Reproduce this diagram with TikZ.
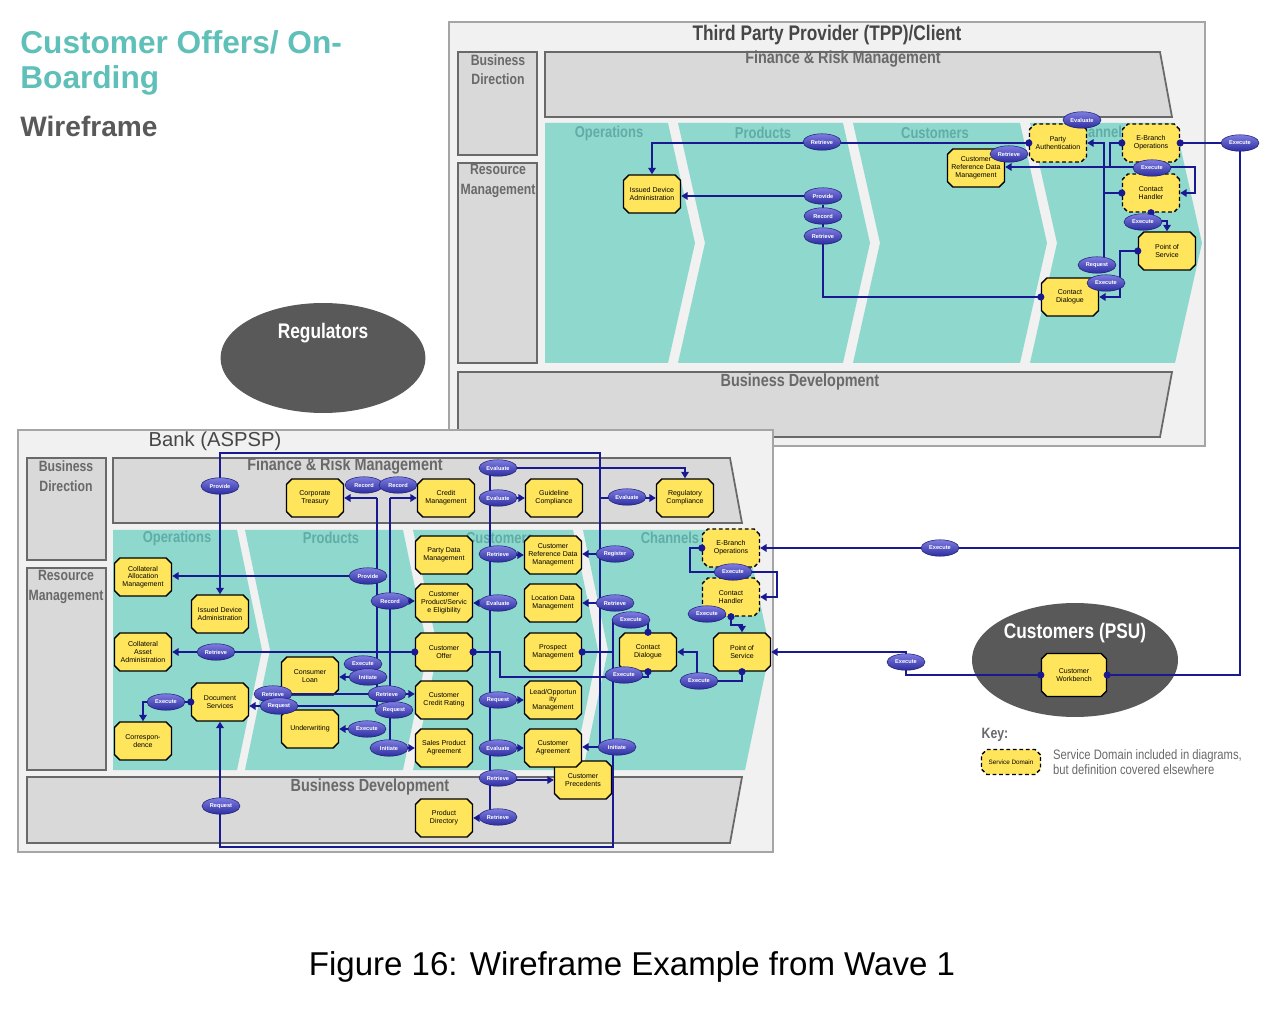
\documentclass[tikz,border=0pt]{standalone}
\usepackage{fontspec}
\setmainfont{Liberation Sans}
\newfontfamily\narrowfont[FakeStretch=0.82]{Liberation Sans}
\usetikzlibrary{shapes.geometric, shapes.misc, positioning, arrows.meta, calc}

\definecolor{sdyellow}{RGB}{255,229,92}
\definecolor{wireblue}{RGB}{25,25,145}
\definecolor{optop}{RGB}{125,125,225}
\definecolor{opbot}{RGB}{45,45,160}
\definecolor{opline}{RGB}{30,30,115}
\definecolor{bandteal}{RGB}{143,216,206}
\definecolor{bandtext}{RGB}{96,172,166}
\definecolor{panelgray}{RGB}{241,241,241}
\definecolor{panelline}{RGB}{165,165,165}
\definecolor{boxgray}{RGB}{217,217,217}
\definecolor{edgegray}{RGB}{105,105,105}
\definecolor{headgray}{RGB}{105,105,105}
\definecolor{darkhead}{RGB}{70,70,70}
\definecolor{titleteal}{RGB}{94,192,184}
\definecolor{blobgray}{RGB}{89,89,89}

\pgfdeclarelayer{back}
\pgfdeclarelayer{mid}
\pgfsetlayers{back,mid,main}

\begin{document}
\begin{tikzpicture}[x=0.02cm, y=-0.02cm]
\tikzset{sd/.style={chamfered rectangle, chamfered rectangle sep=1.5pt, draw=black, line width=0.8pt, fill=sdyellow, minimum width=1.14cm, minimum height=0.76cm, inner sep=0.5pt, align=center, font=\fontsize{4}{4.4}\selectfont},
  sdx/.style={sd, dash pattern=on 2.2pt off 1.5pt},
  op/.style={ellipse, draw=opline, line width=0.3pt, top color=optop, bottom color=opbot, minimum width=0.76cm, minimum height=0.33cm, inner sep=0pt, text=white, font=\bfseries\fontsize{3.2}{3.2}\selectfont},
  wire/.style={draw=wireblue, line width=1.1pt},
  arr/.style={wire, -{Triangle[length=3.6pt,width=4.2pt]}},
  dotarr/.style={wire, shorten <=-2pt, {Circle[length=4pt]}-{Triangle[length=3.6pt,width=4.2pt]}},
  dotln/.style={wire, shorten <=-2pt, {Circle[length=4pt]}-},
  dotdot/.style={wire, shorten <=-2pt, shorten >=-2pt, {Circle[length=4pt]}-{Circle[length=4pt]}},
  panel/.style={draw=panelline, fill=panelgray, line width=0.8pt},
  grey/.style={draw=edgegray, fill=boxgray, line width=1pt},
  band/.style={fill=bandteal},
  head/.style={text=headgray, font=\narrowfont\bfseries\fontsize{10}{11}\selectfont},
  side/.style={text=headgray, align=center, font=\narrowfont\bfseries\fontsize{8.5}{11}\selectfont},
  bandlbl/.style={text=bandtext, font=\narrowfont\bfseries\fontsize{9}{10}\selectfont},
  blob/.style={ellipse, fill=blobgray},
  blobtext/.style={text=white, font=\narrowfont\bfseries\fontsize{12}{13}\selectfont}}

\begin{pgfonlayer}{back}
\fill[white] (0,0) rectangle (1279,1013);
\useasboundingbox (0,0) rectangle (1279,1013);

% headline
\node[anchor=west, inner sep=0, text=titleteal, font=\bfseries\fontsize{18}{20}\selectfont] (ttl1) at (20,42) {Customer Offers/ On-};
\node[anchor=west, inner sep=0, text=titleteal, font=\bfseries\fontsize{18}{20}\selectfont] (ttl2) at (20,80) {Boarding};
\node[anchor=west, inner sep=0, text=blobgray, font=\bfseries\fontsize{16}{18}\selectfont] (ttl3) at (20,126) {Wireframe};
\node[font=\fontsize{18.8}{20}\selectfont] (cap) at (632,967) {Figure 16: Wireframe Example from Wave 1};

% TPP frame
\draw[panel] (449,22) rectangle (1205,446);
\draw[grey] (458,52) rectangle (537,155);
\draw[grey] (458,163) rectangle (537,363);
\draw[grey] (545,52) -- (1160,52) -- (1172,117) -- (545,117) -- cycle;
\draw[grey] (458,372) -- (1172,372) -- (1160,437) -- (458,437) -- cycle;
\foreach \l/\r/\n in {545/668/0, 678/843/27, 853/1020/27, 1030/1175/27}
  \fill[band] (\l,123) -- (\r,123) -- (\r+27,243) -- (\r,363) -- (\l,363) -- (\l+\n,243) -- cycle;
\node[text=darkhead, font=\narrowfont\bfseries\fontsize{12}{13}\selectfont] (tppT) at (827,35) {Third Party Provider (TPP)/Client};
\node[head] (tFR) at (843,59) {Finance \& Risk Management};
\node[head] (tBD) at (800,382) {Business Development};
\node[side] (tBDir) at (498,70) {Business\\Direction};
\node[side] (tRM) at (498,181) {Resource\\Management};
\node[bandlbl] (tOps) at (609,133) {Operations};
\node[bandlbl] (tPrd) at (763,133) {Products};
\node[bandlbl] (tCus) at (935,133) {Customers};
\node[bandlbl] (tChn) at (1100,132) {Channels};

% Bank frame
\draw[panel] (18,430) rectangle (773,852);
\draw[grey] (27,458) rectangle (106,560);
\draw[grey] (27,568) rectangle (106,770);
\draw[grey] (113,458) -- (730,458) -- (742,523) -- (113,523) -- cycle;
\draw[grey] (27,777) -- (742,777) -- (730,843) -- (27,843) -- cycle;
\foreach \l/\r/\n in {113/237/0, 245/403/25, 413/573/25, 583/745/25}
  \fill[band] (\l,530) -- (\r,530) -- (\r+25,650) -- (\r,770) -- (\l,770) -- (\l+\n,650) -- cycle;
\node[text=darkhead, font=\fontsize{11.5}{13}\selectfont] (bankT) at (215,441) {Bank (ASPSP)};
\node[head] (bFR) at (345,466) {Finance \& Risk Management};
\node[head] (bBD) at (370,787) {Business Development};
\node[side] (bBDir) at (66,476) {Business\\Direction};
\node[side] (bRM) at (66,587) {Resource\\Management};
\node[bandlbl] (bOps) at (177,538) {Operations};
\node[bandlbl] (bPrd) at (331,538) {Products};
\node[bandlbl] (bCus) at (500,538) {Customers};
\node[bandlbl] (bChn) at (670,538) {Channels};

% outside parties
\node[blob, minimum width=4.1cm, minimum height=2.2cm] (regs) at (323,358) {};
\node[blobtext] (regsT) at (323,333) {Regulators};
\node[blob, minimum width=4.12cm, minimum height=2.28cm] (psu) at (1075,660) {};
\node[blobtext] (psuT) at (1075,633) {Customers (PSU)};

% TPP service domains
\node[sd] (tIDA) at (652,194) {Issued Device\\Administration};
\node[sd] (tCRD) at (976,168) {Customer\\Reference Data\\Management};
\node[sdx] (tPA) at (1058,143) {Party\\Authentication};
\node[sdx] (tEB) at (1151,143) {E-Branch\\Operations};
\node[sdx] (tCH) at (1151,193) {Contact\\Handler};
\node[sd] (tPOS) at (1167,251) {Point of\\Service};
\node[sd] (tCD) at (1070,297) {Contact\\Dialogue};

% Bank service domains
\node[sd] (bCT) at (315,498) {Corporate\\Treasury};
\node[sd] (bCM) at (446,498) {Credit\\Management};
\node[sd] (bGC) at (554,498) {Guideline\\Compliance};
\node[sd] (bRC) at (685,498) {Regulatory\\Compliance};
\node[sd] (bCAM) at (143,577) {Collateral\\Allocation\\Management};
\node[sd] (bIDA) at (220,614) {Issued Device\\Administration};
\node[sd] (bCAA) at (143,652) {Collateral\\Asset\\Administration};
\node[sd] (bDS) at (220,702) {Document\\Services};
\node[sd] (bCO) at (143,741) {Correspon-\\dence};
\node[sd] (bCL) at (310,676) {Consumer\\Loan};
\node[sd] (bUW) at (310,729) {Underwriting};
\node[sd] (bPDM) at (444,555) {Party Data\\Management};
\node[sd] (bCPE) at (444,603) {Customer\\Product/Servic\\e Eligibility};
\node[sd] (bOff) at (444,652) {Customer\\Offer};
\node[sd] (bCCR) at (444,700) {Customer\\Credit Rating};
\node[sd] (bSPA) at (444,748) {Sales Product\\Agreement};
\node[sd] (bPD) at (444,818) {Product\\Directory};
\node[sd] (bCRD) at (553,555) {Customer\\Reference Data\\Management};
\node[sd] (bLDM) at (553,603) {Location Data\\Management};
\node[sd] (bPM) at (553,652) {Prospect\\Management};
\node[sd] (bLOM) at (553,700) {Lead/Opportun\\ity\\Management};
\node[sd] (bCP) at (583,780) {Customer\\Precedents};
\node[sd] (bCA) at (553,748) {Customer\\Agreement};
\node[sd] (bCD) at (648,652) {Contact\\Dialogue};
\node[sd] (bPOS) at (742,652) {Point of\\Service};
\node[sdx] (bEB) at (731,548) {E-Branch\\Operations};
\node[sdx] (bCH) at (731,597) {Contact\\Handler};
\node[sd, minimum width=1.3cm, minimum height=0.86cm] (cWB) at (1074,675) {Customer\\Workbench};
\end{pgfonlayer}

% TPP operations
\node[op] (tRet1) at (822,142) {Retrieve};
\node[op] (tRet2) at (1009,154) {Retrieve};
\node[op] (tEva) at (1082,120) {Evaluate};
\node[op] (tExe1) at (1152,168) {Execute};
\node[op] (tPro) at (823,196) {Provide};
\node[op] (tRec) at (823,216) {Record};
\node[op] (tRet3) at (823,236) {Retrieve};
\node[op] (tExe2) at (1143,222) {Execute};
\node[op] (tReq) at (1097,265) {Request};
\node[op] (tExe3) at (1106,283) {Execute};
\node[op] (tExe4) at (1240,143) {Execute};

% Bank operations
\node[op] (bPro1) at (220,486) {Provide};
\node[op] (bRec1) at (364,485) {Record};
\node[op] (bRec2) at (398,485) {Record};
\node[op] (bEva1) at (498,468) {Evaluate};
\node[op] (bEva2) at (498,498) {Evaluate};
\node[op] (bEva3) at (627,497) {Evaluate};
\node[op] (bPro2) at (368,576) {Provide};
\node[op] (bRec3) at (390,601) {Record};
\node[op] (bRet1) at (498,554) {Retrieve};
\node[op] (bReg) at (615,554) {Register};
\node[op] (bEva4) at (498,603) {Evaluate};
\node[op] (bRet2) at (615,603) {Retrieve};
\node[op] (bExe1) at (631,620) {Execute};
\node[op] (bExe2) at (733,572) {Execute};
\node[op] (bExe3) at (707,614) {Execute};
\node[op] (bRet3) at (216,652) {Retrieve};
\node[op] (bExe4) at (363,664) {Execute};
\node[op] (bIni1) at (368,677) {Initiate};
\node[op] (bRet4) at (273,694) {Retrieve};
\node[op] (bReq1) at (279,706) {Request};
\node[op] (bRet5) at (387,694) {Retrieve};
\node[op] (bReq2) at (394,710) {Request};
\node[op] (bExe5) at (367,729) {Execute};
\node[op] (bIni2) at (389,748) {Initiate};
\node[op] (bExe6) at (166,702) {Execute};
\node[op] (bReq3) at (498,700) {Request};
\node[op] (bExe7) at (624,675) {Execute};
\node[op] (bExe8) at (699,681) {Execute};
\node[op] (bEva5) at (498,748) {Evaluate};
\node[op] (bIni3) at (617,747) {Initiate};
\node[op] (bRet6) at (498,778) {Retrieve};
\node[op] (bRet7) at (498,817) {Retrieve};
\node[op] (bReq4) at (221,806) {Request};
\node[op] (bExe9) at (940,548) {Execute};
\node[op] (cExe) at (906,662) {Execute};

% key
\node[text=headgray, font=\narrowfont\bfseries\fontsize{8.5}{10}\selectfont] (keyT) at (995,735) {Key:};
\node[sdx, minimum width=1.18cm, minimum height=0.5cm, font=\fontsize{3.6}{4}\selectfont] (keyB) at (1011,762) {Service Domain};
\node[anchor=west, align=left, text=headgray, font=\narrowfont\fontsize{7.8}{8.2}\selectfont] (keyD) at (1047,762) {Service Domain included in diagrams,\\but definition covered elsewhere};

\begin{pgfonlayer}{mid}
% TPP wiring
\coordinate (tjL) at (1110,167);
\coordinate (tjR) at (1195,167);
\coordinate (tjE) at (1104,193);
\draw[dotarr] (tPA.west) -| (tIDA.north);
\draw[wire] (tPro) -- (tRet3);
\draw[arr] (tPro) -- (tPro -| tIDA.east);
\draw[dotln] (tCD.west) -| (tRet3.center);
\draw[dotarr] (tEB.west) -| (tjL) -- (tjR) |- (tCH.east);
\draw[arr] (tjL) -- (tjL -| tCRD.east);
\draw[dotarr] (tCH.west) -- (tjE) |- (tPA.east);
\draw[wire] (tjE) -- (tjE |- tReq);
\draw[dotarr] (tCH.south) -- ++(0,8) -| (tPOS.north);
\draw[dotarr] (tPOS.west) -- ++(-18,0) |- (tCD.east);
\draw[dotln] (tEB.east) -- (tExe4.center);
\draw[dotln] (cWB.east) -| (tExe4.center);
\draw[arr] (tExe4 |- bEB.east) -- (bEB.east);

% Bank wiring
\coordinate (bv1) at (377,498);
\coordinate (bv2) at (390,498);
\coordinate (bv3) at (490,468);
\coordinate (bTopR) at (600,453);
\coordinate (bTopL) at (220,453);
\coordinate (bBotR) at (613,847);
\coordinate (bj1) at (697,681);
\coordinate (bj2) at (777,572);
\draw[dotarr] (bOff.west) -- (bOff.west -| bCAA.east);
\draw[wire] (bv1) -- (bv1 |- bReq2);
\draw[wire] (bv2) -- (bv2 |- bIni2);
\draw[arr] (bv1) -- (bv1 -| bCT.east);
\draw[arr] (bv2) -- (bv2 -| bCM.west);
\draw[arr] (bv1 |- bPro2) -- (bPro2 -| bCAM.east);
\draw[arr] (bv2 |- bRec3) -- (bRec3 -| bCPE.west);
\draw[arr] (bv1 |- bIni1) -- (bIni1 -| bCL.east);
\draw[arr] (bv2 |- bReq1) -- (bReq1 -| bDS.east);
\draw[arr] (bRet4) -- (bRet4 -| bCCR.west);
\draw[arr] (bv1 |- bExe5) -- (bExe5 -| bUW.east);
\draw[arr] (bv2 |- bIni2) -- (bIni2 -| bSPA.west);
\draw[arr] (bIni3 -| bTopR) -- (bTopR) -- (bTopL) -- (bIDA.north);
\draw[arr] (bIni3 -| bTopR) -- (bIni3 -| bCA.east);
\draw[arr] (bTopR |- bReg) -- (bReg -| bCRD.east);
\draw[arr] (bTopR |- bRet2) -- (bRet2 -| bLDM.east);
\draw[dotln] (bPM.east) -- (bPM.east -| bBotR);
\draw[arr] (bTopR |- bRC.west) -- (bRC.west);
\draw[wire] (bv3) -- (bv3 |- bRet7);
\draw[dotln] (bOff.east) -- (bOff.east -| bv3);
\draw[arr] (bv3) -| (bRC.north);
\draw[arr] (bv3 |- bGC.west) -- (bGC.west);
\draw[arr] (bv3 |- bCRD.west) -- (bCRD.west);
\draw[arr] (bv3 |- bCPE.east) -- (bCPE.east);
\draw[arr] (bv3 |- bLOM.west) -- (bLOM.west);
\draw[arr] (bv3 |- bCA.west) -- (bCA.west);
\draw[arr] (bv3 |- bCP.west) -- (bCP.west);
\draw[arr] (bv3 |- bPD.east) -- (bPD.east);
\draw[dotdot] (bCD.south) -- ++(0,5) -| ($(bOff.east)+(27,0)$) -- (bOff.east);
\draw[dotarr] (bCD.north) |- (bExe1.center) -| (bBotR) -| (bDS.south);
\draw[dotarr] (bPOS.south) |- (bj1) |- (bCD.east);
\draw[dotarr] (bEB.west) -- ++(-12,0) |- (bj2) |- (bCH.east);
\draw[dotarr] (bCH.south) -- ++(0,8) -| (bPOS.north);
\draw[dotarr] (bDS.west) -| (bCO.north);
\draw[dotarr] (cWB.west) -| (cExe.center) |- (bPOS.east);
\end{pgfonlayer}
\end{tikzpicture}
\end{document}
